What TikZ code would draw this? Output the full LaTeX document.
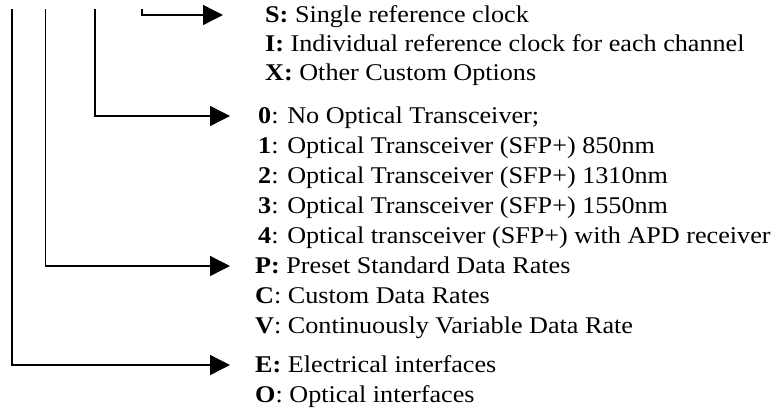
\documentclass[tikz,border=0pt]{standalone}
\usepackage{fontspec}
\setmainfont[FakeStretch=1.09]{Liberation Serif}
\usetikzlibrary{arrows.meta}

\begin{document}
\begin{tikzpicture}[x=1pt,y=-1pt,
  item/.style={anchor=base west,inner sep=0pt,text height=14pt,text depth=0pt,font=\fontsize{24}{30}\selectfont},
  feed/.style={line width=1.4pt,-{Triangle[length=20pt,width=20pt]}}]
\useasboundingbox (0,0) rectangle (771,410);
% reference clock
\node[item] (S) at (265,22) {\textbf{S:} Single reference clock};
\node[item] (I) at (265,51) {\textbf{I:} Individual reference clock for each channel};
\node[item] (X) at (265,80) {\textbf{X:} Other Custom Options};
% optical transceiver
\node[item] (t0) at (258,123) {\textbf{0}: No Optical Transceiver;};
\node[item] (t1) at (258,153) {\textbf{1}: Optical Transceiver (SFP+) 850nm};
\node[item] (t2) at (258,183) {\textbf{2}: Optical Transceiver (SFP+) 1310nm};
\node[item] (t3) at (258,213) {\textbf{3}: Optical Transceiver (SFP+) 1550nm};
\node[item] (t4) at (258,243) {\textbf{4}: Optical transceiver (SFP+) with APD receiver};
% data rates
\node[item] (P) at (255,273) {\textbf{P:} Preset Standard Data Rates};
\node[item] (C) at (255,303) {\textbf{C}: Custom Data Rates};
\node[item] (V) at (255,333) {\textbf{V}: Continuously Variable Data Rate};
% interfaces
\node[item] (E) at (255,372) {\textbf{E:} Electrical interfaces};
\node[item] (O) at (255,402) {\textbf{O}: Optical interfaces};
% code positions
\coordinate (clk) at (142,9);
\coordinate (sfp) at (95,9);
\coordinate (rate) at (45.5,9);
\coordinate (intf) at (12,9);
\draw[feed,shorten >=42pt] (clk) |- (S.west);
\draw[feed,shorten >=28pt] (sfp) |- (t0.west);
\draw[feed,shorten >=25pt] (rate) |- (P.west);
\draw[feed,shorten >=25pt] (intf) |- (E.west);
\end{tikzpicture}
\end{document}
